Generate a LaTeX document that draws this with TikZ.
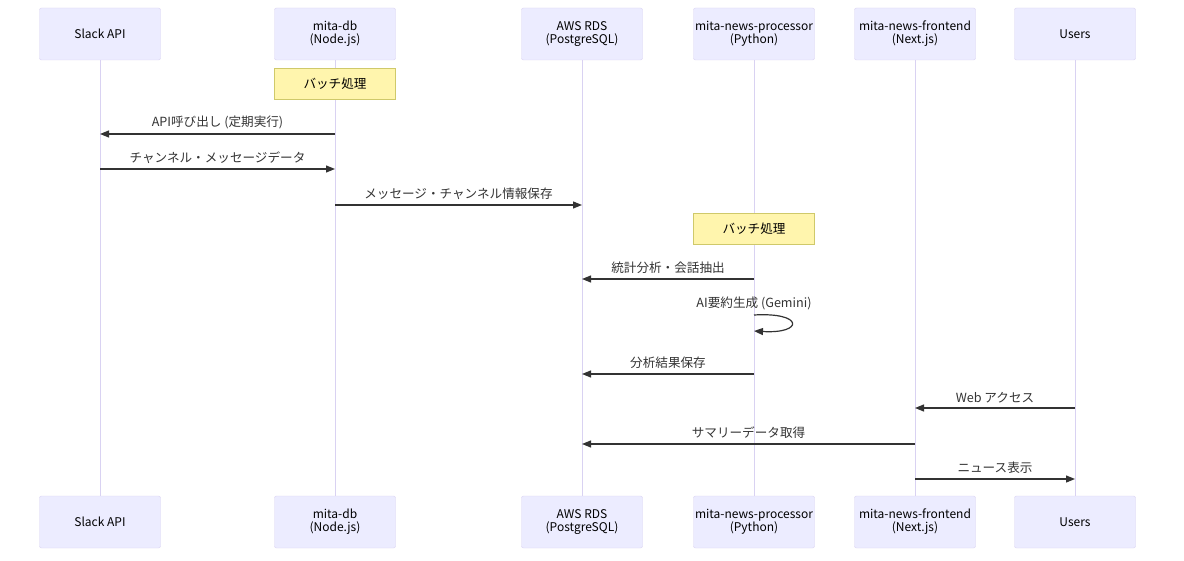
\documentclass[tikz,border=0pt]{standalone}
\usepackage{fontspec}
\setmainfont{Noto Sans CJK JP}
\usetikzlibrary{arrows.meta,calc}

\definecolor{actfill}{HTML}{ECECFF}
\definecolor{actline}{HTML}{D9D2F2}
\definecolor{notefill}{HTML}{FFF5AD}
\definecolor{noteline}{HTML}{CFC96A}
\definecolor{ink}{HTML}{333333}

\begin{document}
\begin{tikzpicture}[x=1pt, y=-1pt,
    font=\fontsize{12.6}{13}\selectfont, >={Triangle[length=9pt,width=7pt]},
    actor/.style={draw=actline, fill=actfill, rounded corners=2pt, align=center, font=\fontsize{12}{13}\selectfont, minimum width=121pt, minimum height=52pt, inner xsep=0pt, inner ysep=2pt, text=black},
    note/.style={draw=noteline, fill=notefill, minimum width=121pt, minimum height=31pt, inner sep=2pt, text=black},
    life/.style={draw=actline, line width=1pt},
    msg/.style={->, draw=ink, line width=1.2pt},
    lbl/.style={above=2.5pt, text=ink, inner sep=2pt}]
  \useasboundingbox (0,0) rectangle (1184,561);
  % actors, top row
  \node[actor] (slack) at (100,34) {Slack API};
  \node[actor] (db) at (335,34) {mita-db\\(Node.js)};
  \node[actor] (rds) at (582,34) {AWS RDS\\(PostgreSQL)};
  \node[actor] (proc) at (754,34) {mita-news-processor\\(Python)};
  \node[actor] (front) at (915,34) {mita-news-frontend\\(Next.js)};
  \node[actor] (users) at (1075,34) {Users};
  % actors, bottom row
  \node[actor] (slackB) at (100,522) {Slack API};
  \node[actor] (dbB) at (335,522) {mita-db\\(Node.js)};
  \node[actor] (rdsB) at (582,522) {AWS RDS\\(PostgreSQL)};
  \node[actor] (procB) at (754,522) {mita-news-processor\\(Python)};
  \node[actor] (frontB) at (915,522) {mita-news-frontend\\(Next.js)};
  \node[actor] (usersB) at (1075,522) {Users};
  % lifelines
  \draw[life] (slack) -- (slackB);
  \draw[life] (db) -- (dbB);
  \draw[life] (rds) -- (rdsB);
  \draw[life] (proc) -- (procB);
  \draw[life] (front) -- (frontB);
  \draw[life] (users) -- (usersB);
  % notes
  \node[note] (batchA) at (335,83.5) {バッチ処理};
  \node[note] (batchB) at (754,228.5) {バッチ処理};
  % message rows
  \coordinate (m1) at (0,134);
  \coordinate (m2) at (0,169);
  \coordinate (m3) at (0,205);
  \coordinate (m4) at (0,279);
  \coordinate (m5a) at (0,315);
  \coordinate (m5b) at (0,331);
  \coordinate (m6) at (0,374);
  \coordinate (m7) at (0,408);
  \coordinate (m8) at (0,444);
  \coordinate (m9) at (0,479);
  \draw[msg] (db |- m1) -- (slack |- m1) node[lbl, midway] {API呼び出し (定期実行)};
  \draw[msg] (slack |- m2) -- (db |- m2) node[lbl, midway] {チャンネル・メッセージデータ};
  \draw[msg] (db |- m3) -- (rds |- m3) node[lbl, midway] {メッセージ・チャンネル情報保存};
  \draw[msg] (proc |- m4) -- (rds |- m4) node[lbl, midway] {統計分析・会話抽出};
  \draw[msg] (proc |- m5a) node[lbl] {AI要約生成 (Gemini)}
    .. controls +(50,-3) and +(50,3) .. (proc |- m5b);
  \draw[msg] (proc |- m6) -- (rds |- m6) node[lbl, midway] {分析結果保存};
  \draw[msg] (users |- m7) -- (front |- m7) node[lbl, midway] {Web アクセス};
  \draw[msg] (front |- m8) -- (rds |- m8) node[lbl, midway] {サマリーデータ取得};
  \draw[msg] (front |- m9) -- (users |- m9) node[lbl, midway] {ニュース表示};
\end{tikzpicture}
\end{document}
